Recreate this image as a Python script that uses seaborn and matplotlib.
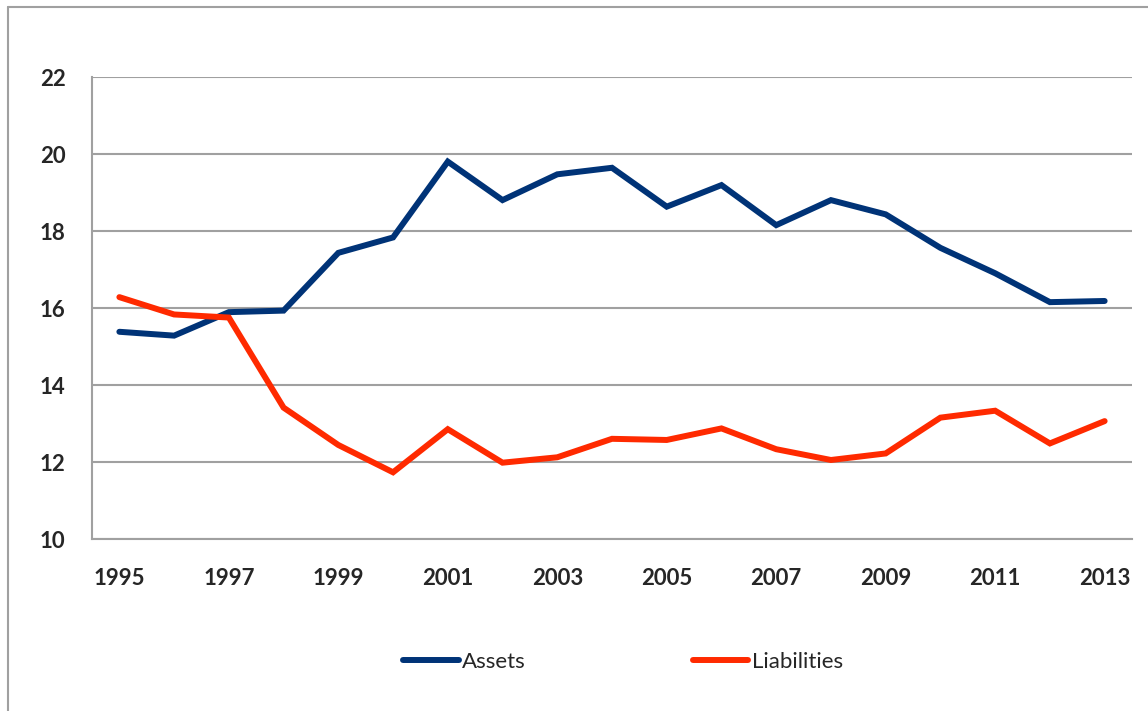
import matplotlib
matplotlib.use("Agg")
import matplotlib.pyplot as plt
from matplotlib.lines import Line2D
from matplotlib.ticker import FixedLocator
import seaborn as sns
import pandas as pd

years = list(range(1995, 2014))
assets = [15.39, 15.29, 15.90, 15.94, 17.44, 17.84, 19.81, 18.81, 19.48, 19.65,
          18.64, 19.20, 18.16, 18.81, 18.44, 17.57, 16.91, 16.16, 16.19]
liabilities = [16.29, 15.84, 15.76, 13.42, 12.45, 11.74, 12.86, 11.99, 12.13, 12.61,
               12.58, 12.88, 12.34, 12.06, 12.23, 13.16, 13.34, 12.49, 13.07]
series_names = ["Assets", "Liabilities"]
colors = {"Assets": "#003377", "Liabilities": "#FF2A00"}
y_ticks = [10, 12, 14, 16, 18, 20, 22]
x_labels = [1995, 1997, 1999, 2001, 2003, 2005, 2007, 2009, 2011, 2013]

df = pd.DataFrame({
    "Year": years * 2,
    "Value": assets + liabilities,
    "Series": ["Assets"] * len(years) + ["Liabilities"] * len(years),
})

sns.set_theme(style="white")
plt.rcParams["font.family"] = ["Lato", "DejaVu Sans"]

fig = plt.figure(figsize=(11.48, 7.11), dpi=100)
ax = fig.add_axes([92 / 1148, 1 - 539.3 / 711, (1132 - 92) / 1148, (539.3 - 77.3) / 711])

sns.lineplot(data=df, x="Year", y="Value", hue="Series", hue_order=series_names,
             palette=colors, linewidth=4.3, ax=ax, legend=False,
             solid_joinstyle="miter", solid_capstyle="round")

grid_col = "#A0A0A0"
ax.set_xlim(1994.5, 2013.5)
ax.set_ylim(10, 22)
ax.set_yticks(y_ticks)
ax.set_yticklabels([str(v) for v in y_ticks], fontsize=16, fontweight="bold")
ax.set_xticks(x_labels)
ax.set_xticklabels([str(v) for v in x_labels], fontsize=16, fontweight="bold")
ax.xaxis.set_minor_locator(FixedLocator([y - 0.5 for y in years] + [2013.5]))
ax.tick_params(axis="x", which="major", length=0, pad=21)
ax.tick_params(axis="x", which="minor", length=7, width=1.5, color=grid_col, direction="out")
ax.tick_params(axis="y", length=0, pad=19)
ax.grid(axis="y", color=grid_col, linewidth=1.5)
ax.grid(axis="x", visible=False)
ax.set_axisbelow(True)
for s in ["top", "right"]:
    ax.spines[s].set_visible(False)
for s in ["left", "bottom"]:
    ax.spines[s].set_color(grid_col)
    ax.spines[s].set_linewidth(1.5)
ax.set_xlabel("")
ax.set_ylabel("")

# outer chart frame
fig.add_artist(Line2D([8 / 1148, 8 / 1148], [0, 1 - 7 / 711], transform=fig.transFigure,
                      color=grid_col, linewidth=1.5))
fig.add_artist(Line2D([8 / 1148, 1], [1 - 7 / 711, 1 - 7 / 711], transform=fig.transFigure,
                      color=grid_col, linewidth=1.5))

handles = [Line2D([], [], color=colors[n], linewidth=4.3, solid_capstyle="round") for n in series_names]
fig.legend(handles, series_names, loc="center", bbox_to_anchor=(623 / 1148, 1 - 662 / 711),
           ncol=2, frameon=False, fontsize=16, handlelength=2.5, handletextpad=0.15,
           columnspacing=7.5)

fig.savefig("out.png", dpi=100)
